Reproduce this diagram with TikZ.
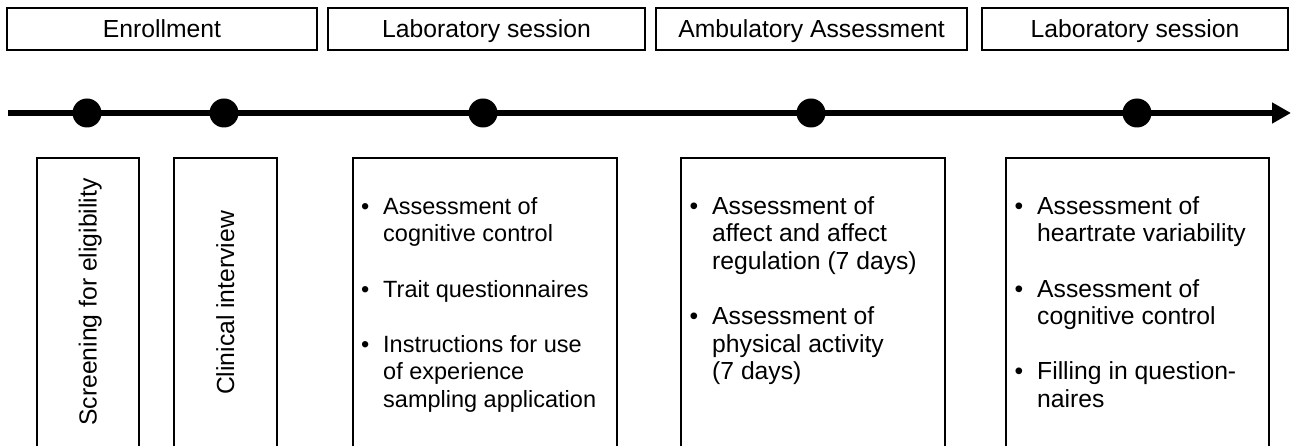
\documentclass[tikz,border=0pt]{standalone}
\usepackage{fontspec}
\setmainfont{Liberation Sans}
\usetikzlibrary{arrows.meta}
\begin{document}
\begin{tikzpicture}[x=1pt,y=-1pt,
  txt/.style={font=\fontsize{24.7}{27.6}\selectfont},
  smalltxt/.style={font=\fontsize{23.5}{27.6}\selectfont},
  hdr/.style={txt, draw, line width=2.2pt, minimum height=42pt, inner sep=0pt, text height=17.8pt, text depth=0pt},
  ev/.style={circle, fill=black, minimum size=29pt, inner sep=0pt},
  phase/.style={draw, line width=2.2pt, inner sep=0pt, anchor=north west},
  vtext/.style={txt, rotate=90, inner sep=0pt, anchor=base},
  list/.style={txt, anchor=north west, inner sep=0pt, align=left}
]
\useasboundingbox (0,0) rectangle (1291,446);
\clip (0,0) rectangle (1291,446);

% phase headers
\node[hdr, minimum width=310pt] (h1) at (162,29) {Enrollment};
\node[hdr, minimum width=317pt] (h2) at (486.5,29) {Laboratory session};
\node[hdr, minimum width=311pt] (h3) at (811.5,29) {Ambulatory Assessment};
\node[hdr, minimum width=306pt] (h4) at (1135,29) {Laboratory session};

% timeline
\coordinate (ts) at (8,113);
\coordinate (te) at (1291,113);
\draw[line width=6.5pt, -{Triangle[length=19pt,width=20pt]}] (ts) -- (te);

\node[ev] (e1) at (87,113) {};
\node[ev] (e2) at (224,113) {};
\node[ev] (e3) at (483,113) {};
\node[ev] (e4) at (811,113) {};
\node[ev] (e5) at (1137,113) {};

% activity boxes
\node[phase, minimum width=102pt, minimum height=296pt] (b1) at (36,157) {};
\node[phase, minimum width=103pt, minimum height=296pt] (b2) at (173,157) {};
\node[phase, minimum width=264pt, minimum height=296pt] (b3) at (352,157) {};
\node[phase, minimum width=264pt, minimum height=296pt] (b4) at (680,157) {};
\node[phase, minimum width=263pt, minimum height=296pt] (b5) at (1005,157) {};

\node[vtext] (t1) at (96.5,302) {Screening for eligibility};
\node[vtext] (t2) at (234,303) {Clinical interview};

\node[list, smalltxt] (l3) at (361,194.7) {\begin{tabular}{@{}p{22pt}@{}l@{}}
\textbullet & Assessment of\\
 & cognitive control\\
 & \\
\textbullet & Trait questionnaires\\
 & \\
\textbullet & Instructions for use\\
 & of experience\\
 & sampling application
\end{tabular}};

\node[list] (l4) at (689.5,194.7) {\begin{tabular}{@{}p{22.5pt}@{}l@{}}
\textbullet & Assessment of\\
 & affect and affect\\
 & regulation (7 days)\\
 & \\
\textbullet & Assessment of\\
 & physical activity\\
 & (7 days)
\end{tabular}};

\node[list] (l5) at (1014.5,194.7) {\begin{tabular}{@{}p{22.5pt}@{}l@{}}
\textbullet & Assessment of\\
 & heartrate variability\\
 & \\
\textbullet & Assessment of\\
 & cognitive control\\
 & \\
\textbullet & Filling in question-\\
 & naires
\end{tabular}};
\end{tikzpicture}
\end{document}
